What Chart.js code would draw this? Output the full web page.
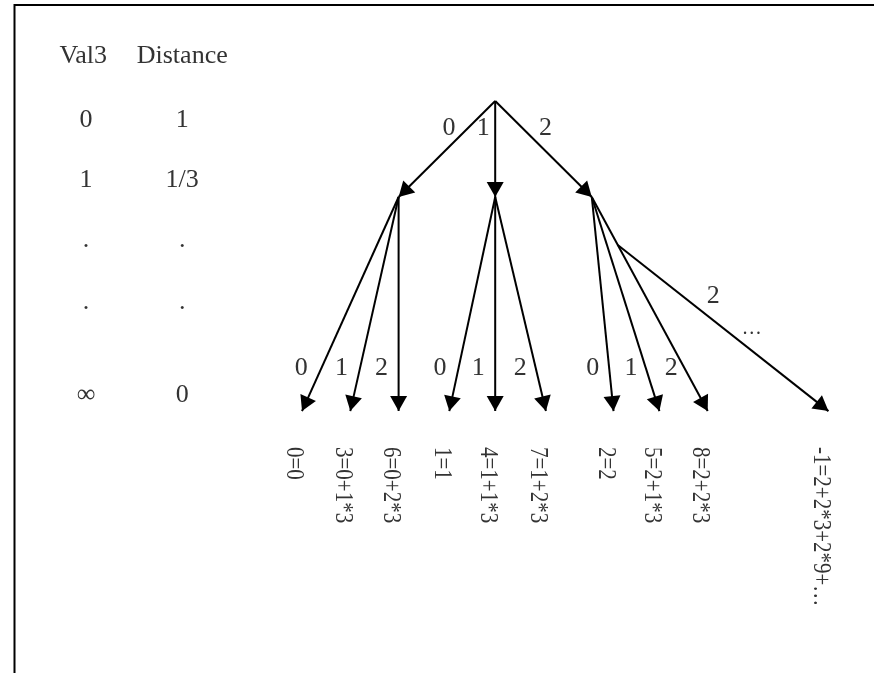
<!DOCTYPE html>
<html>
<head>
<meta charset="utf-8">
<script src="https://cdn.jsdelivr.net/npm/chart.js@4.4.1/dist/chart.umd.min.js"></script>
<style>
  html, body { margin: 0; padding: 0; background: #fff; }
  #wrap { width: 874px; height: 673px; }
</style>
</head>
<body>
<div id="wrap"><canvas id="tree" width="874" height="673"></canvas></div>
<script>
// base-3 digit tree: depth 0 = root, 1 = first digit, 2 = second digit
const depths = [0, 1, 3.23];
const rootSlot = 4;
const branchSlots = [2, 4, 6];
const leafSlots = [0, 1, 2, 3.05, 4, 5.05, 6.45, 7.4, 8.4];
const leafParents = [0, 0, 0, 1, 1, 1, 2, 2, 2];
const leafTexts = ['0=0', '3=0+1*3', '6=0+2*3', '1=1', '4=1+1*3', '7=1+2*3', '2=2', '5=2+1*3', '8=2+2*3'];
const digits = ['0', '1', '2'];

// the endless 2,2,2,... branch, leaving from the "2" edge of the last group
const tailSlot = 10.9;
const tailDigit = '2';
const tailText = '-1=2+2*3+2*9+\u2026';

const tableHeader = ['Val3', 'Distance'];
const val3Column = ['0', '1', '.', '.', '\u221e'];
const distanceColumn = ['1', '1/3', '.', '.', '0'];

const TEXT = '#333';
const SERIF = '"Liberation Serif", "DejaVu Serif", serif';

// build the edges from the arrays above
const edges = [];
branchSlots.forEach((s, i) => {
  edges.push({ from: { x: rootSlot, y: depths[0] }, to: { x: s, y: depths[1] }, label: digits[i], level: 1, right: i === 2 });
});
leafSlots.forEach((s, j) => {
  edges.push({ from: { x: branchSlots[leafParents[j]], y: depths[1] }, to: { x: s, y: depths[2] }, label: digits[j % 3], level: 2 });
});
const lastEdge = edges[edges.length - 1];
const t0 = 0.224;
const tailStart = {
  x: lastEdge.from.x + t0 * (lastEdge.to.x - lastEdge.from.x),
  y: lastEdge.from.y + t0 * (lastEdge.to.y - lastEdge.from.y)
};
edges.push({ from: tailStart, to: { x: tailSlot, y: depths[2] }, label: tailDigit, level: 3 });

const treePlugin = {
  id: 'treePlugin',
  beforeDraw(chart) {
    const ctx = chart.ctx;
    ctx.save();
    ctx.strokeStyle = '#000';
    ctx.lineWidth = 2;
    ctx.beginPath();
    ctx.moveTo(14.5, chart.height);
    ctx.lineTo(14.5, 5);
    ctx.lineTo(chart.width, 5);
    ctx.stroke();
    ctx.restore();
  },
  afterDatasetsDraw(chart) {
    const ctx = chart.ctx;
    const xs = chart.scales.x, ys = chart.scales.y;
    ctx.save();

    // arrow heads
    chart.data.datasets.forEach((ds, i) => {
      const pts = chart.getDatasetMeta(i).data;
      const a = pts[0], b = pts[1];
      const ang = Math.atan2(b.y - a.y, b.x - a.x);
      const len = 15, half = 8.5;
      ctx.fillStyle = '#000';
      ctx.beginPath();
      ctx.moveTo(b.x, b.y);
      ctx.lineTo(b.x - len * Math.cos(ang) + half * Math.sin(ang), b.y - len * Math.sin(ang) - half * Math.cos(ang));
      ctx.lineTo(b.x - len * Math.cos(ang) - half * Math.sin(ang), b.y - len * Math.sin(ang) + half * Math.cos(ang));
      ctx.closePath();
      ctx.fill();
    });

    // edge digits
    ctx.fillStyle = TEXT;
    ctx.font = '26px ' + SERIF;
    ctx.textAlign = 'center';
    ctx.textBaseline = 'alphabetic';
    edges.forEach((e, i) => {
      const pts = chart.getDatasetMeta(i).data;
      const a = pts[0], b = pts[1];
      let d, dx;
      if (e.level === 1) { d = 0.354; dx = e.right ? 16 : -12; }
      else if (e.level === 2) { d = 2.854; dx = -17; }
      else { d = 2.104; dx = 22; }
      const py = ys.getPixelForValue(d);
      const t = (py - a.y) / (b.y - a.y);
      const px = a.x + t * (b.x - a.x) + dx;
      ctx.fillText(e.label, px, py);
      if (e.level === 3) {
        const qy = ys.getPixelForValue(2.427);
        const tq = (qy - a.y) / (b.y - a.y);
        ctx.font = '20px ' + SERIF;
        ctx.fillText('\u2026', a.x + tq * (b.x - a.x) + 21, qy);
        ctx.font = '26px ' + SERIF;
      }
    });

    // rotated value labels under the leaves
    const labelTop = ys.getPixelForValue(3.604);
    const drawRotated = (txt, slot) => {
      ctx.save();
      ctx.translate(xs.getPixelForValue(slot) - 8, labelTop);
      ctx.rotate(Math.PI / 2);
      ctx.scale(1, 1.2);
      ctx.font = '21px ' + SERIF;
      ctx.textAlign = 'left';
      ctx.textBaseline = 'middle';
      ctx.fillText(txt, 0, 0);
      ctx.restore();
    };
    leafSlots.forEach((s, j) => drawRotated(leafTexts[j], s));
    drawRotated(tailText, tailSlot);

    // Val3 / Distance table
    ctx.font = '26px ' + SERIF;
    ctx.textAlign = 'center';
    const headRow = -0.396;
    const rows = [0.271, 0.896, 1.52, 2.167, 3.135];
    ctx.fillText(tableHeader[0], xs.getPixelForValue(-4.53), ys.getPixelForValue(headRow));
    ctx.fillText(tableHeader[1], xs.getPixelForValue(-2.48), ys.getPixelForValue(headRow));
    rows.forEach((r, k) => {
      ctx.fillText(val3Column[k], xs.getPixelForValue(-4.47), ys.getPixelForValue(r));
      ctx.fillText(distanceColumn[k], xs.getPixelForValue(-2.48), ys.getPixelForValue(r));
    });

    ctx.restore();
  }
};

const ctx = document.getElementById('tree').getContext('2d');
new Chart(ctx, {
  type: 'scatter',
  data: {
    datasets: edges.map(e => ({
      data: [e.from, e.to],
      showLine: true,
      borderColor: '#000',
      borderWidth: 2,
      pointRadius: 0,
      fill: false
    }))
  },
  options: {
    responsive: false,
    animation: false,
    layout: { padding: 0 },
    plugins: {
      legend: { display: false },
      tooltip: { enabled: false }
    },
    scales: {
      x: { type: 'linear', display: false, min: -6.253, max: 11.843 },
      y: { type: 'linear', display: false, min: -1.052, max: 5.958, reverse: true }
    }
  },
  plugins: [treePlugin]
});
</script>
</body>
</html>
